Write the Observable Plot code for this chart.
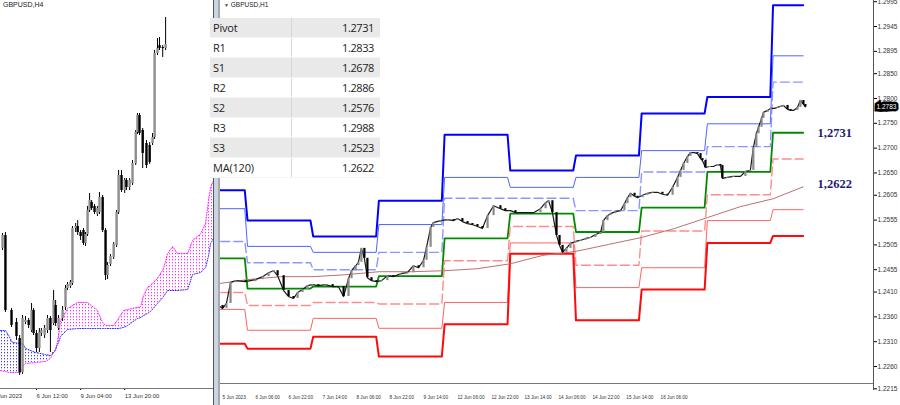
<!DOCTYPE html>
<html><head><meta charset="utf-8">
<script src="https://cdn.jsdelivr.net/npm/d3@7"></script>
<script src="https://cdn.jsdelivr.net/npm/@observablehq/plot@0.6"></script>
<style>
body{margin:0;background:#fff;width:900px;height:405px;overflow:hidden;position:relative;font-family:"Liberation Sans",Arial,sans-serif;}
#left,#right{position:absolute;top:0;}
#left{left:0;} #right{left:218px;}
.sep{position:absolute;left:213px;top:0;width:5px;height:405px;background:#c9d5e3;border-left:1px solid #555;}
.sep2{position:absolute;left:218px;top:0;width:2px;height:405px;background:#a9a9a9;}
.hl{position:absolute;height:1px;background:#777;}
.vl{position:absolute;width:1px;background:#555;}
.title{position:absolute;top:0;font-size:7px;color:#222;white-space:nowrap;}
#tbl{position:absolute;left:210px;top:18px;width:170px;border-collapse:collapse;font-family:"Open Sans",sans-serif;font-size:11px;color:#222;background:#fff;z-index:5;}
#tbl td{height:19px;padding:0;line-height:19px;border-bottom:1px solid #f4f4f4;}
#tbl td.l{padding-left:3px;width:78px;border-right:1px solid #d6d6d6;letter-spacing:-0.2px;}
#tbl td.v{text-align:right;padding-right:6px;letter-spacing:-0.4px;}
#tbl tr.g td{background:#e9e9e9;}
</style></head><body>
<div id="left"></div>
<div id="right"></div>
<div class="sep"></div><div class="sep2"></div>
<div class="hl" style="left:0;top:388px;width:213px;"></div>
<div class="hl" style="left:220px;top:383px;width:653px;"></div>
<div class="vl" style="left:873px;top:0;height:390px;"></div>
<div class="title" style="left:3px;top:1px;">GBPUSD,H4</div>
<div class="title" style="left:224px;top:1px;font-size:6.5px;"><span style="font-size:5px;color:#444">&#9660;</span> GBPUSD,H1</div>
<table id="tbl"></table>
<script>
// ---------- Table ----------
const tableLabels = ["Pivot","R1","S1","R2","S2","R3","S3","MA(120)"];
const tableValues = [1.2731,1.2833,1.2678,1.2886,1.2576,1.2988,1.2523,1.2622];

// ---------- Right panel (H1) ----------
const dayNames = ["5 Jun","6 Jun","7 Jun","8 Jun","9 Jun","12 Jun","13 Jun","14 Jun","15 Jun","16 Jun"];
const lastBarHour = 227;
const levelR3 = [1.2615,1.2554,1.2522,1.2594,1.2727,1.2655,1.2685,1.2770,1.2803,1.2988];
const levelR2 = [1.2578,1.2502,1.2490,1.2546,1.2641,1.2621,1.2641,1.2695,1.2749,1.2886];
const levelR1 = [1.2512,1.2469,1.2455,1.2490,1.2599,1.2599,1.2574,1.2652,1.2703,1.2833];
const levelP  = [1.2478,1.2417,1.2421,1.2442,1.2518,1.2568,1.2531,1.2580,1.2652,1.2731];
const levelS1 = [1.2409,1.2383,1.2389,1.2386,1.2473,1.2542,1.2464,1.2533,1.2606,1.2678];
const levelS2 = [1.2375,1.2333,1.2357,1.2337,1.2389,1.2509,1.2419,1.2459,1.2554,1.2576];
const levelS3 = [1.2306,1.2296,1.2320,1.2280,1.2345,1.2487,1.2353,1.2415,1.2509,1.2523];

const maHour  = [13.4,24,36,48,60,72,84,96,108,120,132,144,156,168,180,192,204,216,227];
const maValue = [1.2427,1.2435,1.2441,1.2441,1.2445,1.2451,1.2451,1.2453,1.2457,1.2467,1.2484,1.2492,1.2506,1.2520,1.2538,1.2560,1.2582,1.2598,1.2622];

const priceHour = [13.4,14.9,16.3,17.8,19.6,23.3,26.9,29.5,31.7,33.5,35.0,37.2,39.0,40.8,42.3,44.1,45.9,47.7,49.9,52.5,55.1,57.2,59.1,60.9,62.0,63.5,64.5,65.6,66.7,67.8,69.3,71.1,73.0,75.1,77.3,79.9,82.4,84.6,86.5,88.3,89.4,90.9,91.9,94.5,97.1,99.3,100.7,102.5,104.4,106.2,108.0,109.8,111.7,113.9,116.4,118.2,120.1,121.9,123.7,126.3,128.5,131.0,132.9,134.0,135.4,136.9,138.0,139.1,140.5,142.0,143.8,145.6,147.5,149.3,151.1,153.0,154.0,155.5,156.6,158.4,160.3,161.7,162.8,163.9,165.4,166.5,168.3,170.1,171.9,173.8,175.6,177.4,179.3,181.1,182.2,183.3,184.7,185.8,187.3,188.4,189.5,190.2,191.3,192.8,194.2,195.7,196.8,197.5,199.3,201.5,204.1,205.9,207.7,208.8,209.9,210.7,211.8,212.5,214.0,215.1,216.5,217.6,218.7,219.8,221.3,222.4,223.5,224.9,226.0,227.1,227.8];
const priceClose = [1.2383,1.2377,1.2387,1.2429,1.2433,1.2431,1.2435,1.2441,1.2449,1.2453,1.2443,1.2413,1.2401,1.2397,1.2409,1.2415,1.2423,1.2425,1.2423,1.2425,1.2421,1.2421,1.2401,1.2437,1.2453,1.2463,1.2470,1.2498,1.2478,1.2439,1.2433,1.2431,1.2433,1.2443,1.2441,1.2447,1.2449,1.2463,1.2459,1.2474,1.2500,1.2540,1.2550,1.2554,1.2556,1.2554,1.2558,1.2552,1.2548,1.2546,1.2542,1.2538,1.2564,1.2584,1.2578,1.2574,1.2574,1.2570,1.2570,1.2570,1.2570,1.2578,1.2590,1.2594,1.2570,1.2524,1.2504,1.2490,1.2498,1.2508,1.2512,1.2514,1.2518,1.2520,1.2526,1.2530,1.2554,1.2564,1.2568,1.2572,1.2574,1.2588,1.2600,1.2609,1.2603,1.2600,1.2605,1.2609,1.2611,1.2611,1.2607,1.2605,1.2621,1.2641,1.2655,1.2669,1.2683,1.2691,1.2691,1.2689,1.2679,1.2675,1.2661,1.2663,1.2663,1.2667,1.2665,1.2639,1.2641,1.2643,1.2643,1.2653,1.2655,1.2701,1.2729,1.2742,1.2760,1.2772,1.2776,1.2780,1.2780,1.2782,1.2784,1.2786,1.2778,1.2776,1.2776,1.2782,1.2796,1.2788,1.2783];

const yTicks = [1.2995,1.2945,1.2895,1.2850,1.2800,1.2750,1.2700,1.2650,1.2605,1.2555,1.2505,1.2455,1.2410,1.2360,1.2310,1.2260,1.2215];
const xTickLabels = ["5 Jun 2023","6 Jun 06:00","6 Jun 22:00","7 Jun 14:00","8 Jun 06:00","8 Jun 22:00","9 Jun 14:00","12 Jun 06:00","12 Jun 22:00","13 Jun 14:00","14 Jun 06:00","14 Jun 22:00","15 Jun 14:00","16 Jun 06:00"];
const xTickHours  = [14.9,26.9,39.0,51.4,63.8,75.9,88.3,100.7,113.1,125.2,137.6,150.0,162.4,174.9];

// ---------- Left panel (H4) ----------
const leftBar   = [0.7,1.7,3.8,5.5,6.6,7.6,8.6,9.7,10.7,11.4,12.4,13.4,14.1,15.2,16.2,17.2,18.3,19.0,20.0,21.4,22.4,23.1,24.1,24.8,25.9,26.6,27.6,28.6,29.3,30.0,30.7,31.4,32.4,33.4,34.1,35.2,36.2,36.9,37.9,39.0,40.0,40.7,41.7,42.8,43.4,44.5,45.5,46.6,47.2,47.9,49.0,50.3,51.4,52.4,53.1,54.1,54.8,55.9,56.9];
const leftOpen  = [1.2404,1.2430,1.2280,1.2256,1.2224,1.2156,1.2256,1.2260,1.2240,1.2280,1.2234,1.2204,1.2234,1.2230,1.2240,1.2264,1.2254,1.2290,1.2244,1.2264,1.2286,1.2324,1.2328,1.2334,1.2444,1.2448,1.2436,1.2440,1.2414,1.2432,1.2480,1.2496,1.2488,1.2472,1.2476,1.2506,1.2440,1.2350,1.2372,1.2386,1.2410,1.2476,1.2550,1.2520,1.2540,1.2526,1.2534,1.2574,1.2636,1.2670,1.2640,1.2614,1.2610,1.2614,1.2626,1.2794,1.2810,1.2806,1.2804];
const leftClose = [1.2430,1.2280,1.2250,1.2228,1.2156,1.2264,1.2260,1.2250,1.2280,1.2234,1.2204,1.2236,1.2240,1.2244,1.2264,1.2240,1.2300,1.2254,1.2264,1.2280,1.2324,1.2332,1.2336,1.2444,1.2448,1.2436,1.2428,1.2414,1.2432,1.2480,1.2500,1.2484,1.2476,1.2484,1.2506,1.2440,1.2350,1.2370,1.2388,1.2412,1.2476,1.2550,1.2520,1.2540,1.2526,1.2540,1.2574,1.2636,1.2670,1.2634,1.2594,1.2570,1.2576,1.2626,1.2794,1.2804,1.2804,1.2804,1.2812];
const leftHigh  = [1.2434,1.2436,1.2284,1.2264,1.2230,1.2270,1.2268,1.2264,1.2294,1.2284,1.2240,1.2244,1.2244,1.2250,1.2270,1.2268,1.2320,1.2300,1.2270,1.2288,1.2330,1.2336,1.2340,1.2448,1.2454,1.2460,1.2440,1.2444,1.2436,1.2488,1.2514,1.2500,1.2492,1.2488,1.2516,1.2510,1.2444,1.2376,1.2392,1.2416,1.2480,1.2560,1.2560,1.2544,1.2544,1.2544,1.2580,1.2640,1.2674,1.2674,1.2644,1.2620,1.2616,1.2634,1.2800,1.2824,1.2826,1.2810,1.2866];
const leftLow   = [1.2400,1.2276,1.2246,1.2220,1.2150,1.2152,1.2252,1.2244,1.2236,1.2230,1.2196,1.2196,1.2228,1.2224,1.2234,1.2196,1.2250,1.2248,1.2240,1.2258,1.2280,1.2320,1.2324,1.2330,1.2436,1.2430,1.2420,1.2410,1.2408,1.2428,1.2476,1.2480,1.2472,1.2468,1.2472,1.2436,1.2340,1.2342,1.2368,1.2382,1.2406,1.2472,1.2516,1.2514,1.2520,1.2520,1.2530,1.2570,1.2632,1.2630,1.2564,1.2564,1.2572,1.2610,1.2622,1.2790,1.2800,1.2786,1.2800];

const cloudBar     = [0,1.7,2.8,4.1,6.9,7.9,8.6,12.1,15.5,17.2,19.0,19.3,20.0,20.7,22.4,23.1,26.6,30.0,33.4,35.2,36.2,39.0,40.7,42.4,43.8,47.2,48.3,49.3,50.7,51.7,54.1,56.2,57.6,59.3,61.0,64.5,66.2,69.0,70.7,71.7,72.4,73.4];
const cloudBlue    = [1.2240,1.2240,1.2230,1.2216,1.2214,1.2212,1.2204,1.2196,1.2192,1.2190,1.2200,1.2208,1.2216,1.2228,1.2238,1.2242,1.2244,1.2244,1.2244,1.2244,1.2244,1.2244,1.2244,1.2246,1.2250,1.2264,1.2266,1.2270,1.2274,1.2278,1.2294,1.2308,1.2320,1.2320,1.2320,1.2322,1.2352,1.2356,1.2366,1.2390,1.2414,1.2424];
const cloudMagenta = [1.2160,1.2158,1.2156,1.2156,1.2156,1.2170,1.2174,1.2176,1.2178,1.2184,1.2204,1.2208,1.2230,1.2260,1.2276,1.2284,1.2296,1.2296,1.2280,1.2256,1.2250,1.2250,1.2264,1.2280,1.2282,1.2286,1.2288,1.2310,1.2326,1.2330,1.2344,1.2364,1.2394,1.2408,1.2394,1.2394,1.2420,1.2434,1.2454,1.2500,1.2526,1.2540];
const leftTickLabels = ["1 Jun 2023","6 Jun 12:00","9 Jun 04:00","13 Jun 20:00"];
const leftTickBars   = [-2.8,12.4,27.6,42.8];

// ---------- table ----------
const tbl = document.getElementById("tbl");
tableLabels.forEach((lab,i)=>{
  const tr = document.createElement("tr");
  if (i % 2 === 0) tr.className = "g";
  const a = document.createElement("td"); a.className="l"; a.textContent = lab;
  const b = document.createElement("td"); b.className="v"; b.textContent = tableValues[i].toFixed(4);
  tr.append(a,b); tbl.append(tr);
});

// ---------- right chart ----------
function levelPoints(vals){
  const pts=[];
  vals.forEach((v,d)=>{ pts.push({h:24*d, v}); pts.push({h:Math.min(24*d+23, lastBarHour), v}); });
  return pts;
}
const levels = [
  {vals:levelR3, stroke:"#0000ff", w:2, dash:null},
  {vals:levelR2, stroke:"#5064ff", w:1, dash:null},
  {vals:levelR1, stroke:"#8c96ff", w:1.4, dash:"9,4"},
  {vals:levelP,  stroke:"#008a00", w:1.8, dash:null},
  {vals:levelS1, stroke:"#ff8c8c", w:1.4, dash:"9,4"},
  {vals:levelS2, stroke:"#ff6464", w:1, dash:null},
  {vals:levelS3, stroke:"#ff0a0a", w:2, dash:null}
];
const ma = maHour.map((h,i)=>({h, v:maValue[i]}));
const price = priceHour.map((h,i)=>({h, c:priceClose[i], o: i ? priceClose[i-1] : priceClose[i]}));
const lastPrice = priceClose[priceClose.length-1];
const xLabelMap = new Map(xTickHours.map((h,i)=>[h, xTickLabels[i]]));

const rightMarks = [];
levels.forEach(L=>{
  rightMarks.push(Plot.line(levelPoints(L.vals), {x:"h", y:"v", stroke:L.stroke, strokeWidth:L.w, strokeDasharray:L.dash || undefined}));
});
rightMarks.push(Plot.line(ma, {x:"h", y:"v", stroke:"#bf6f6f", strokeWidth:1}));
rightMarks.push(Plot.line(price, {x:"h", y:"c", stroke:"#1a1a1a", strokeWidth:1.2}));
rightMarks.push(Plot.ruleX(price, {x:"h", y1:"o", y2:"c", stroke:d=> d.c >= d.o ? "#8a8a8a" : "#000", strokeWidth:2.2}));
rightMarks.push(Plot.axisY(yTicks, {anchor:"right", label:null, tickSize:3, tickPadding:1, fontSize:6.5, tickFormat:d3.format(".4f"), textAnchor:"start", fill:"#333"}));
rightMarks.push(Plot.axisX(xTickHours, {anchor:"bottom", label:null, tickSize:0, tickPadding:3, fontSize:4.7, textAnchor:"start", tickFormat:d=>xLabelMap.get(d), fill:"#333"}));
rightMarks.push(Plot.text([levelP[levelP.length-1]], {y:d=>d, frameAnchor:"right", dx:-56, textAnchor:"start", text:d=>d.toFixed(4).replace(".", ","), fontSize:12.5, fontWeight:"bold", fontFamily:"Liberation Serif, DejaVu Serif, serif", fill:"#1c1c74"}));
rightMarks.push(Plot.text([maValue[maValue.length-1]], {y:d=>d, frameAnchor:"right", dx:-56, dy:-3, textAnchor:"start", text:d=>d.toFixed(4).replace(".", ","), fontSize:12.5, fontWeight:"bold", fontFamily:"Liberation Serif, DejaVu Serif, serif", fill:"#1c1c74"}));
rightMarks.push(Plot.text([lastPrice], {y:d=>d, frameAnchor:"right", dx:3, textAnchor:"start", text:d=>d.toFixed(4), fontSize:6.5, fill:"#000", stroke:"#000", strokeWidth:5, strokeLinejoin:"miter"}));
rightMarks.push(Plot.text([lastPrice], {y:d=>d, frameAnchor:"right", dx:3, textAnchor:"start", text:d=>d.toFixed(4), fontSize:6.5, fill:"#fff"}));

const right = Plot.plot({
  width:682, height:405,
  marginLeft:0, marginRight:27, marginTop:0, marginBottom:13,
  x:{domain:[13.4, 252.7], axis:null},
  y:{domain:[1.220762, 1.299746], axis:null},
  style:{background:"transparent", fontFamily:"Liberation Sans, Arial, sans-serif"},
  marks: rightMarks
});
document.getElementById("right").append(right);

// ---------- left chart ----------
const candles = leftBar.map((b,i)=>({b, o:leftOpen[i], c:leftClose[i], h:leftHigh[i], l:leftLow[i]}));
const cloud = cloudBar.map((b,i)=>({b, blue:cloudBlue[i], mag:cloudMagenta[i]}));
const leftLabelMap = new Map(leftTickBars.map((b,i)=>[b, leftTickLabels[i]]));

const left = Plot.plot({
  width:213, height:405,
  marginLeft:0, marginRight:0, marginTop:0, marginBottom:17,
  x:{domain:[0, 73.4], axis:null},
  y:{domain:[1.2124, 1.29], axis:null},
  style:{background:"transparent", fontFamily:"Liberation Sans, Arial, sans-serif"},
  marks:[
    Plot.areaY(cloud, {x:"b", y1:"blue", y2:d=>Math.max(d.blue, d.mag), fill:"url(#dotM)", curve:"linear"}),
    Plot.areaY(cloud, {x:"b", y1:"mag", y2:d=>Math.max(d.blue, d.mag), fill:"url(#dotB)", curve:"linear"}),
    Plot.line(cloud, {x:"b", y:"mag", stroke:"#ff22ff", strokeWidth:1, strokeDasharray:"1,1.5"}),
    Plot.line(cloud, {x:"b", y:"blue", stroke:"#2a2aff", strokeWidth:1, strokeDasharray:"1,1.5"}),
    Plot.ruleX(candles, {x:"b", y1:"l", y2:"h", stroke:"#000", strokeWidth:1}),
    Plot.ruleX(candles, {x:"b", y1:"o", y2:"c", stroke:d=> d.c >= d.o ? "#8e8e8e" : "#000", strokeWidth:2.4}),
    Plot.axisX(leftTickBars, {anchor:"bottom", label:null, tickSize:2, tickPadding:3, fontSize:6, textAnchor:"start", tickFormat:d=>leftLabelMap.get(d), fill:"#333"})
  ]
});
const ns = "http://www.w3.org/2000/svg";
const defs = document.createElementNS(ns, "defs");
defs.innerHTML = '<pattern id="dotM" width="3" height="3" patternUnits="userSpaceOnUse"><rect x="1" y="1" width="1" height="1.3" fill="#ff30ff"/></pattern>' +
                 '<pattern id="dotB" width="3" height="3" patternUnits="userSpaceOnUse"><rect x="1" y="1" width="1" height="1.3" fill="#4040ff"/></pattern>';
left.insertBefore(defs, left.firstChild);
document.getElementById("left").append(left);
</script>
</body></html>
